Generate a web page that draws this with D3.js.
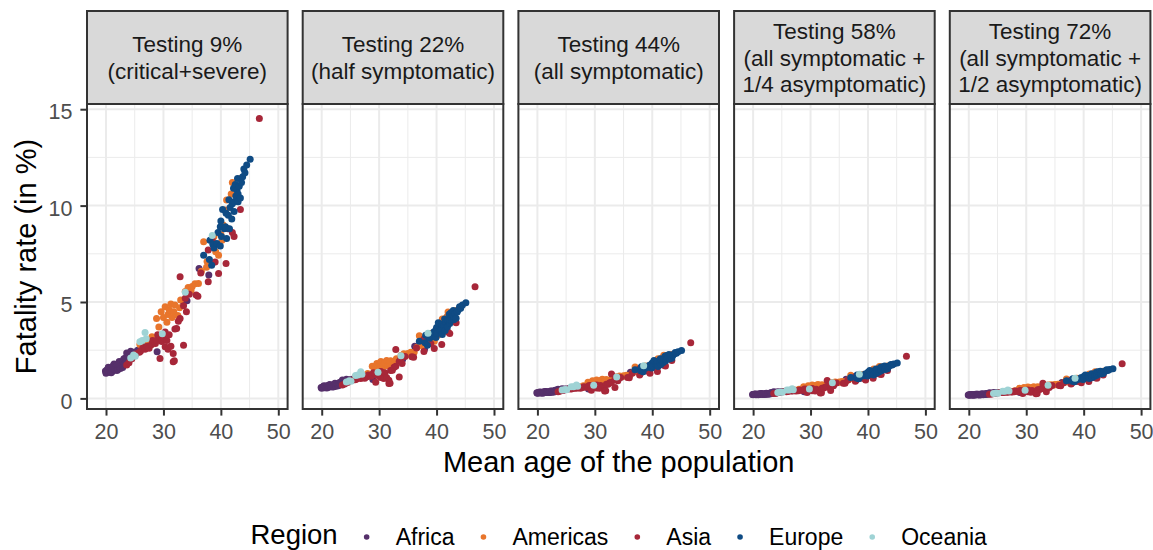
<!DOCTYPE html>
<html>
<head>
<meta charset="utf-8">
<script src="https://cdn.jsdelivr.net/npm/d3@7"></script>
<style>
  body { margin: 0; background: #fff; }
  svg { display: block; font-family: "Liberation Sans", Arial, sans-serif; }
</style>
</head>
<body>
<div id="viz"></div>
<script>
// each row: [mean age, fatality % at testing 9%, 22%, 44%, 58%, 72%]
const africa = [
  [19.9, 1.42, .57, .29, .20, .18], [20.0, 1.30, .53, .27, .19, .17], [20.1, 1.38, .56, .28, .20, .17],
  [20.2, 1.48, .60, .30, .21, .18], [20.3, 1.50, .61, .31, .21, .19], [20.4, 1.62, .66, .33, .23, .20],
  [20.5, 1.35, .55, .28, .19, .17], [20.6, 1.55, .63, .32, .22, .19], [20.7, 1.40, .57, .29, .20, .17],
  [20.8, 1.45, .59, .30, .21, .18], [20.9, 1.33, .54, .27, .19, .17], [21.0, 1.60, .65, .33, .23, .20],
  [21.1, 1.40, .57, .29, .20, .18], [21.2, 1.68, .68, .34, .24, .21], [21.3, 1.52, .62, .31, .22, .19],
  [21.4, 1.78, .72, .36, .25, .22], [21.5, 1.65, .67, .34, .23, .21], [21.6, 1.48, .60, .30, .21, .19],
  [21.7, 1.55, .63, .32, .22, .19], [21.8, 1.70, .69, .35, .24, .21], [21.9, 1.45, .59, .30, .21, .18],
  [22.0, 1.58, .64, .32, .22, .20], [22.1, 1.50, .61, .31, .21, .19], [22.2, 1.75, .71, .36, .25, .22],
  [22.3, 1.92, .78, .39, .27, .24], [22.4, 1.62, .66, .33, .23, .20], [22.5, 1.55, .63, .32, .22, .19],
  [22.6, 1.85, .75, .38, .26, .23], [22.8, 1.72, .70, .35, .24, .21], [22.9, 1.60, .65, .33, .23, .20],
  [23.0, 1.95, .79, .40, .28, .24], [23.1, 2.05, .83, .42, .29, .26], [23.2, 1.80, .73, .37, .26, .22],
  [23.4, 2.10, .85, .43, .30, .26], [23.5, 1.88, .76, .38, .27, .23], [23.6, 2.35, .95, .48, .34, .29],
  [23.9, 2.20, .89, .45, .32, .27], [24.0, 1.95, .79, .40, .28, .24], [24.3, 2.45, .99, .50, .35, .30],
  [24.6, 2.15, .87, .44, .31, .27], [24.8, 2.40, .97, .49, .35, .30], [25.0, 2.35, .95, .48, .34, .29],
  [25.5, 2.50, 1.01, .51, .36, .31], [26.8, 2.76, 1.11, .56, .40, .34], [27.5, 2.85, 1.15, .58, .41, .35],
  [28.9, 2.42, .98, .49, .35, .30], [29.1, 3.05, 1.23, .62, .44, .38], [33.5, 5.00, 2.01, 1.00, .73, .61],
  [34.1, 5.06, 2.03, 1.01, .74, .62], [36.2, 6.74, 2.71, 1.35, .99, .83], [37.9, 6.40, 2.55, 1.28, .94, .79]
];
const americas = [
  [25.9, 2.80, 1.13, .57, .41, .35], [27.2, 2.95, 1.19, .60, .43, .37], [28.0, 3.20, 1.29, .65, .47, .40],
  [28.8, 4.15, 1.67, .84, .61, .52], [29.2, 3.70, 1.49, .75, .54, .46], [29.6, 4.50, 1.81, .91, .66, .56],
  [30.0, 4.20, 1.69, .85, .62, .52], [30.3, 4.75, 1.91, .96, .70, .59], [30.6, 3.95, 1.59, .80, .58, .49],
  [30.8, 4.35, 1.75, .88, .64, .54], [31.0, 4.60, 1.85, .93, .68, .57], [31.3, 4.90, 1.97, .99, .72, .61],
  [31.5, 4.20, 1.69, .85, .62, .52], [31.8, 4.50, 1.81, .91, .66, .56], [32.0, 4.85, 1.95, .98, .71, .60],
  [32.5, 4.30, 1.73, .87, .63, .54], [32.8, 4.70, 1.89, .95, .69, .58], [33.0, 5.10, 2.05, 1.03, .75, .63],
  [33.8, 5.55, 2.23, 1.12, .82, .69], [34.3, 5.75, 2.31, 1.16, .85, .71], [34.8, 5.60, 2.25, 1.13, .82, .70],
  [35.0, 5.80, 2.33, 1.17, .85, .72], [35.5, 5.95, 2.39, 1.20, .88, .74], [36.1, 5.96, 2.40, 1.20, .88, .74],
  [36.6, 6.60, 2.65, 1.33, .97, .82], [37.0, 8.12, 3.25, 1.63, 1.20, 1.00], [37.5, 6.80, 2.73, 1.37, 1.00, .84],
  [37.6, 7.10, 2.85, 1.42, 1.05, .88], [38.8, 8.40, 3.36, 1.68, 1.24, 1.04], [39.1, 7.60, 3.04, 1.52, 1.12, .94],
  [39.6, 7.43, 2.97, 1.49, 1.09, .92], [40.0, 8.50, 3.40, 1.70, 1.25, 1.05], [40.2, 8.20, 3.28, 1.64, 1.21, 1.02],
  [40.4, 9.00, 3.60, 1.80, 1.33, 1.11], [40.8, 9.77, 3.91, 1.95, 1.44, 1.20], [41.0, 10.29, 4.12, 2.06, 1.52, 1.27],
  [41.8, 10.60, 4.24, 2.12, 1.56, 1.31], [42.0, 11.20, 4.48, 2.24, 1.65, 1.38], [42.5, 10.90, 4.36, 2.18, 1.61, 1.35],
  [43.4, 11.40, 4.56, 2.28, 1.68, 1.41]
];
const asia = [
  [23.6, 1.73, .70, .35, .26, .22], [24.0, 1.85, .75, .38, .27, .23], [24.5, 2.05, .83, .42, .30, .26],
  [25.2, 2.30, .93, .47, .34, .29], [25.8, 2.40, .97, .49, .35, .30], [26.0, 2.45, .99, .50, .36, .31],
  [26.4, 2.62, 1.06, .53, .38, .32], [26.8, 2.55, 1.03, .52, .38, .32], [27.2, 2.70, 1.09, .55, .40, .34],
  [27.5, 2.60, 1.05, .53, .38, .33], [27.9, 2.78, 1.12, .57, .40, .34], [28.1, 3.00, 1.21, .61, .44, .38],
  [28.6, 2.85, 1.15, .58, .42, .36], [28.8, 3.00, 1.21, .61, .44, .38], [29.0, 3.30, 1.33, .67, .49, .41],
  [29.3, 3.20, 1.29, .65, .47, .40], [29.4, 2.07, .84, .42, .31, .26], [29.7, 2.95, 1.19, .60, .44, .37],
  [30.0, 3.15, 1.27, .64, .46, .40], [30.3, 2.68, 1.08, .54, .40, .34], [30.3, 3.45, 1.39, .70, .51, .43],
  [30.6, 3.00, 1.21, .61, .44, .37], [30.8, 2.55, 1.03, .52, .38, .32], [31.0, 3.30, 1.33, .67, .48, .41],
  [31.3, 2.70, 1.09, .55, .40, .34], [31.7, 2.33, .94, .47, .34, .29], [31.7, 1.90, .77, .39, .28, .24],
  [31.9, 1.95, .79, .40, .29, .25], [32.0, 3.60, 1.45, .73, .53, .45], [32.3, 3.63, 1.46, .73, .54, .46],
  [32.6, 4.00, 1.61, .81, .59, .50], [32.9, 4.15, 1.67, .84, .61, .52], [32.9, 6.31, 2.54, 1.27, .93, .78],
  [33.5, 2.76, 1.11, .56, .41, .35], [33.5, 4.80, 1.93, .97, .71, .60], [33.8, 5.19, 2.09, 1.05, .77, .65],
  [34.0, 4.50, 1.81, .91, .66, .56], [34.5, 5.40, 2.17, 1.09, .80, .67], [35.7, 5.36, 2.16, 1.08, .79, .67],
  [36.0, 5.30, 2.13, 1.07, .78, .66], [36.5, 6.50, 2.61, 1.31, .96, .81], [37.8, 6.05, 2.43, 1.22, .89, .75],
  [37.8, 7.70, 3.08, 1.54, 1.14, .96], [38.5, 8.20, 3.28, 1.64, 1.21, 1.02], [39.0, 7.08, 2.83, 1.42, 1.05, .88],
  [39.6, 6.48, 2.59, 1.30, .96, .81], [40.9, 7.00, 2.80, 1.40, 1.04, .87], [41.2, 8.80, 3.52, 1.76, 1.30, 1.09],
  [42.0, 8.60, 3.44, 1.72, 1.27, 1.07], [42.3, 8.40, 3.36, 1.68, 1.24, 1.04], [43.4, 9.80, 3.92, 1.96, 1.45, 1.22],
  [46.7, 14.52, 5.79, 2.88, 2.19, 1.80]
];
const europe = [
  [37.0, 7.43, 2.97, 1.49, 1.09, .92], [38.0, 7.20, 2.88, 1.44, 1.06, .89], [38.1, 8.20, 3.28, 1.64, 1.21, 1.02],
  [38.4, 6.91, 2.76, 1.38, 1.02, .86], [38.6, 8.00, 3.20, 1.60, 1.18, .99], [38.8, 7.80, 3.12, 1.56, 1.15, .97],
  [39.3, 8.04, 3.22, 1.61, 1.18, 1.00], [39.5, 8.60, 3.44, 1.72, 1.27, 1.07], [39.9, 7.90, 3.16, 1.58, 1.16, .98],
  [39.9, 8.90, 3.56, 1.78, 1.31, 1.10], [40.0, 9.20, 3.68, 1.84, 1.36, 1.14], [40.1, 8.40, 3.36, 1.68, 1.24, 1.04],
  [40.3, 9.80, 3.92, 1.96, 1.45, 1.22], [40.6, 8.80, 3.52, 1.76, 1.30, 1.09], [40.8, 8.90, 3.56, 1.78, 1.31, 1.10],
  [40.9, 9.60, 3.84, 1.92, 1.42, 1.19], [41.0, 8.30, 3.32, 1.66, 1.22, 1.03], [41.3, 9.50, 3.80, 1.90, 1.40, 1.18],
  [41.4, 10.30, 4.12, 2.06, 1.52, 1.28], [41.5, 8.80, 3.52, 1.76, 1.30, 1.09], [41.6, 9.90, 3.96, 1.98, 1.46, 1.23],
  [41.9, 9.30, 3.72, 1.86, 1.37, 1.15], [42.0, 10.10, 4.04, 2.02, 1.49, 1.25], [42.2, 10.90, 4.36, 2.18, 1.61, 1.35],
  [42.3, 9.70, 3.88, 1.94, 1.43, 1.20], [42.3, 10.20, 4.08, 2.04, 1.50, 1.26], [42.5, 11.10, 4.44, 2.22, 1.64, 1.38],
  [42.6, 10.50, 4.20, 2.10, 1.55, 1.30], [42.8, 10.80, 4.32, 2.16, 1.59, 1.34], [42.9, 11.40, 4.56, 2.28, 1.68, 1.41],
  [43.0, 10.20, 4.08, 2.04, 1.50, 1.26], [43.0, 10.60, 4.24, 2.12, 1.56, 1.31], [43.2, 11.00, 4.40, 2.20, 1.62, 1.36],
  [43.4, 10.40, 4.16, 2.08, 1.54, 1.29], [43.6, 11.20, 4.48, 2.24, 1.65, 1.39], [43.8, 11.50, 4.60, 2.30, 1.70, 1.42],
  [44.0, 11.90, 4.76, 2.38, 1.76, 1.48], [44.2, 11.70, 4.68, 2.34, 1.73, 1.45], [44.5, 12.10, 4.84, 2.42, 1.79, 1.50],
  [45.1, 12.40, 4.96, 2.48, 1.83, 1.54]
];
const oceania = [
  [24.3, 2.10, .85, .43, .31, .26], [24.8, 2.25, .91, .46, .33, .28], [25.1, 2.19, .89, .45, .32, .27],
  [25.9, 2.94, 1.19, .60, .43, .37], [26.3, 3.00, 1.21, .61, .44, .37], [26.8, 3.42, 1.38, .69, .50, .43],
  [27.0, 3.10, 1.25, .63, .45, .38], [29.8, 3.35, 1.35, .68, .49, .42], [33.8, 5.50, 2.21, 1.11, .81, .68],
  [38.5, 8.45, 3.38, 1.69, 1.25, 1.05]
];

const regions = ['Africa', 'Americas', 'Asia', 'Europe', 'Oceania'];
const regionRows = [africa, americas, asia, europe, oceania];
const panelTitles = [
  ['Testing 9%', '(critical+severe)'],
  ['Testing 22%', '(half symptomatic)'],
  ['Testing 44%', '(all symptomatic)'],
  ['Testing 58%', '(all symptomatic +', '1/4 asymptomatic)'],
  ['Testing 72%', '(all symptomatic +', '1/2 asymptomatic)']
];
const xTicks = [20, 30, 40, 50];
const xMinor = [25, 35, 45];
const yTicks = [0, 5, 10, 15];
const yMinor = [2.5, 7.5, 12.5];

const colors = ['#56306b', '#e8752c', '#a72739', '#0f4b84', '#9fd3d5'];

const w = 1153, h = 550;
const left0 = 87, step = 215.7, panelW = 200.6;
const stripTop = 11, plotTop = 104, plotBottom = 409;

const svg = d3.select('#viz').append('svg')
  .attr('width', w)
  .attr('height', h);

const x = d3.scaleLinear().domain([16.69, 51.62]).range([0, panelW]);
const y = d3.scaleLinear().domain([-0.55, 15.27]).range([plotBottom, plotTop]);

panelTitles.forEach(function (title, i) {
  const g = svg.append('g').attr('transform', 'translate(' + (left0 + i * step) + ',0)');

  // grid
  g.selectAll('.vminor').data(xMinor).enter().append('line')
    .attr('x1', d => x(d)).attr('x2', d => x(d))
    .attr('y1', plotTop).attr('y2', plotBottom)
    .attr('stroke', '#ebebeb').attr('stroke-width', 1);
  g.selectAll('.hminor').data(yMinor).enter().append('line')
    .attr('x1', 0).attr('x2', panelW)
    .attr('y1', d => y(d)).attr('y2', d => y(d))
    .attr('stroke', '#ebebeb').attr('stroke-width', 1);
  g.selectAll('.vmajor').data(xTicks).enter().append('line')
    .attr('x1', d => x(d)).attr('x2', d => x(d))
    .attr('y1', plotTop).attr('y2', plotBottom)
    .attr('stroke', '#ebebeb').attr('stroke-width', 2);
  g.selectAll('.hmajor').data(yTicks).enter().append('line')
    .attr('x1', 0).attr('x2', panelW)
    .attr('y1', d => y(d)).attr('y2', d => y(d))
    .attr('stroke', '#ebebeb').attr('stroke-width', 2);

  // points
  regionRows.forEach(function (rows, r) {
    g.selectAll('.pt' + r).data(rows).enter().append('circle')
      .attr('cx', d => x(d[0]))
      .attr('cy', d => y(d[i + 1]))
      .attr('r', 3.5)
      .attr('fill', colors[r]);
  });

  // panel border
  g.append('rect')
    .attr('x', 0).attr('y', plotTop)
    .attr('width', panelW).attr('height', plotBottom - plotTop)
    .attr('fill', 'none').attr('stroke', '#333333').attr('stroke-width', 2);

  // strip
  g.append('rect')
    .attr('x', 0).attr('y', stripTop)
    .attr('width', panelW).attr('height', plotTop - stripTop)
    .attr('fill', '#d9d9d9').attr('stroke', '#333333').attr('stroke-width', 2);

  const mid = (stripTop + plotTop) / 2;
  const lineH = 26.5;
  g.append('text')
    .attr('text-anchor', 'middle')
    .style('font-size', '22.5px')
    .attr('fill', '#1a1a1a')
    .selectAll('tspan').data(title).enter().append('tspan')
    .attr('x', panelW / 2)
    .attr('y', (d, k) => mid + (k - (title.length - 1) / 2) * lineH + 8)
    .text(d => d);

  // x axis
  const xAxis = d3.axisBottom(x).tickValues(xTicks).tickSize(6.6).tickPadding(8);
  const ax = g.append('g').attr('transform', 'translate(0,' + plotBottom + ')').call(xAxis);
  ax.select('.domain').remove();
  ax.selectAll('line').attr('stroke', '#333333').attr('stroke-width', 2);
  ax.selectAll('text').attr('fill', '#4d4d4d').style('font-size', '21.5px')
    .style('font-family', '"Liberation Sans", Arial, sans-serif');

  if (i === 0) {
    const yAxis = d3.axisLeft(y).tickValues(yTicks).tickSize(6.6).tickPadding(8);
    const ay = g.append('g').call(yAxis);
    ay.select('.domain').remove();
    ay.selectAll('line').attr('stroke', '#333333').attr('stroke-width', 2);
    ay.selectAll('text').attr('fill', '#4d4d4d').style('font-size', '21.5px')
      .attr('dy', '0.45em')
      .style('font-family', '"Liberation Sans", Arial, sans-serif');
  }
});

// axis titles
const centerX = left0 + (4 * step + panelW) / 2;
svg.append('text')
  .text('Mean age of the population')
  .attr('x', centerX).attr('y', 472)
  .attr('text-anchor', 'middle')
  .style('font-size', '29px')
  .attr('fill', '#000');

svg.append('text')
  .text('Fatality rate (in %)')
  .attr('transform', 'translate(35.5,' + (plotTop + plotBottom) / 2 + ') rotate(-90)')
  .attr('text-anchor', 'middle')
  .style('font-size', '29px')
  .attr('fill', '#000');

// legend
const legend = svg.append('g');
const legTitle = legend.append('text')
  .text('Region')
  .attr('x', 0).attr('y', 544)
  .style('font-size', '27.5px')
  .attr('fill', '#000');
let cursor = legTitle.node().getComputedTextLength();
regions.forEach(function (name, r) {
  const cx = cursor + 29;
  legend.append('circle')
    .attr('cx', cx).attr('cy', 537).attr('r', 2.8)
    .attr('fill', colors[r]);
  const t = legend.append('text')
    .text(name)
    .attr('x', cx + 29).attr('y', 545)
    .style('font-size', '23px')
    .attr('fill', '#000');
  cursor = cx + 29 + t.node().getComputedTextLength();
});
legend.attr('transform', 'translate(' + (centerX - cursor / 2) + ',0)');
</script>
</body>
</html>
